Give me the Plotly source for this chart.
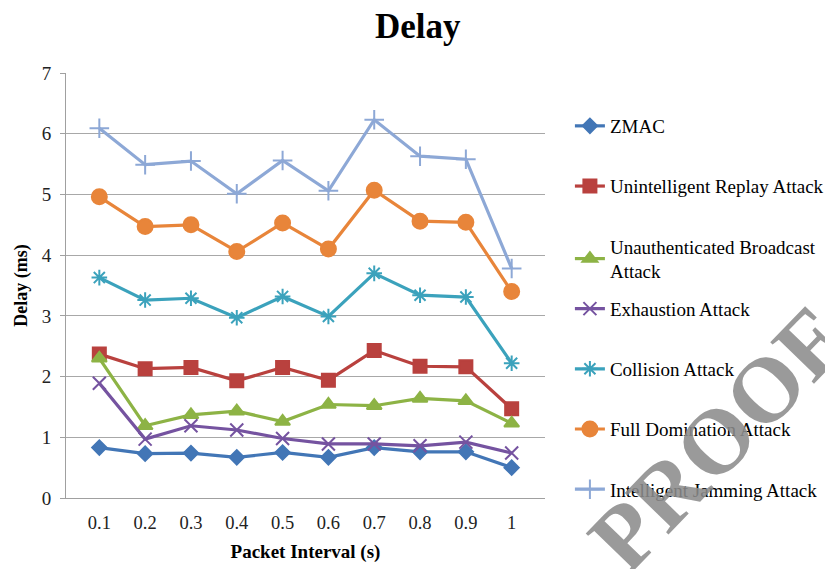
import plotly.graph_objects as go

categories = ["0.1", "0.2", "0.3", "0.4", "0.5", "0.6", "0.7", "0.8", "0.9", "1"]

zmac = [0.83, 0.73, 0.74, 0.67, 0.75, 0.67, 0.83, 0.76, 0.76, 0.50]
replay = [2.37, 2.13, 2.15, 1.93, 2.15, 1.94, 2.43, 2.17, 2.16, 1.47]
broadcast = [2.30, 1.19, 1.37, 1.43, 1.26, 1.54, 1.52, 1.64, 1.60, 1.23]
exhaustion = [1.89, 0.97, 1.19, 1.12, 0.98, 0.89, 0.89, 0.86, 0.92, 0.74]
collision = [3.63, 3.26, 3.29, 2.97, 3.32, 2.99, 3.70, 3.34, 3.31, 2.22]
domination = [4.96, 4.47, 4.50, 4.06, 4.53, 4.10, 5.07, 4.56, 4.54, 3.40]
jamming = [6.09, 5.49, 5.55, 5.01, 5.56, 5.06, 6.23, 5.63, 5.58, 3.78]

names = ["ZMAC", "Unintelligent Replay Attack", "Unauthenticated Broadcast<br>Attack",
         "Exhaustion Attack", "Collision Attack", "Full Domination Attack",
         "Intelligent Jamming Attack"]
series = [zmac, replay, broadcast, exhaustion, collision, domination, jamming]
colors = ["#4276B6", "#B9413E", "#8DB345", "#7553A0", "#3BA2BC", "#E8853A", "#8DA8D6"]
symbols = ["diamond", "square", "triangle-up", "x-thin-open", "asterisk-open", "circle", "cross-thin-open"]
sizes = [11, 13, 13, 13, 13, 15, 14]
legend_ids = ["legend", "legend", "legend", "legend2", "legend2", "legend2", "legend2"]

font = "Liberation Serif, DejaVu Serif, serif"
fig = go.Figure()
for i, (n, s, c, sym, sz, lg) in enumerate(zip(names, series, colors, symbols, sizes, legend_ids)):
    fig.add_trace(go.Scatter(
        x=categories, y=s, name=n, mode="lines+markers", legendgroup=f"g{i}", legend=lg,
        line=dict(color=c, width=3.2),
        marker=dict(symbol=sym, size=sz, color=c, line=dict(color=c, width=2)),
    ))

legend_style = dict(xanchor="left", yanchor="top", itemwidth=30, bgcolor="rgba(0,0,0,0)",
                    font=dict(family=font, size=19, color="black"))

fig.update_layout(
    width=833, height=569,
    margin=dict(l=54, r=296, t=65, b=79),
    paper_bgcolor="white", plot_bgcolor="white",
    font=dict(family=font, color="black"),
    title=dict(text="<b>Delay</b>", x=0.492, xanchor="center", y=0.99, yanchor="top",
               font=dict(family=font, size=35, color="black")),
    xaxis=dict(type="category", showgrid=False, showline=True, linecolor="#A0A0A0", linewidth=1,
               ticks="", tickfont=dict(family=font, size=18.5, color="#222"), ticklabelstandoff=8,
               title=dict(text="<b>Packet Interval (s)</b>", font=dict(family=font, size=19), standoff=12)),
    yaxis=dict(range=[0, 7], dtick=1, showgrid=True, gridcolor="#A8A8A8", gridwidth=1,
               showline=True, linecolor="#A0A0A0", ticks="outside", ticklen=5, tickcolor="#A0A0A0",
               tickfont=dict(family=font, size=19, color="#222"), zeroline=False, ticklabelstandoff=5,
               title=dict(text="<b>Delay (ms)</b>", font=dict(family=font, size=18), standoff=9)),
    legend=dict(x=1.052, y=0.92, tracegroupgap=32.5, **legend_style),
    legend2=dict(x=1.052, y=0.490, tracegroupgap=32.5, **legend_style),
    showlegend=True,
)

fig.add_annotation(text="<b>PROOF</b>", xref="paper", yref="paper", x=1.36, y=0.14,
                   xanchor="center", yanchor="middle",
                   showarrow=False, textangle=-46,
                   font=dict(family=font, size=92, color="rgba(140,140,140,0.88)"))

fig.write_html("out.html")
